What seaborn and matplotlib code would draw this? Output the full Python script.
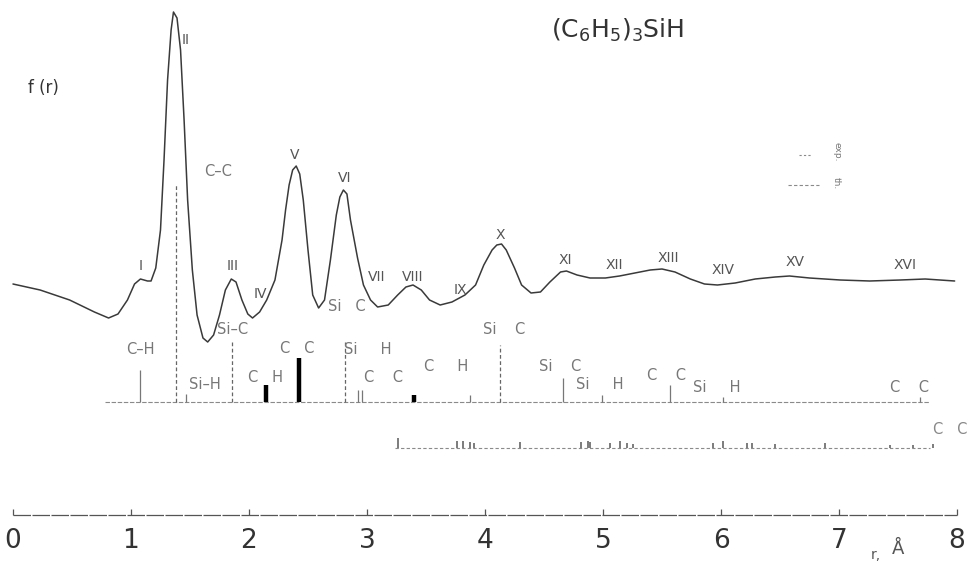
import numpy as np
import pandas as pd
import seaborn as sns
import matplotlib.pyplot as plt

# ---------------- DATA ----------------
# radial distribution curve f(r), arbitrary units
r_curve = [0.00, 0.23, 0.48, 0.69, 0.81, 0.89, 0.97, 1.03, 1.08, 1.14, 1.17, 1.21,
           1.25, 1.28, 1.31, 1.34, 1.36, 1.39, 1.42, 1.45, 1.48, 1.52, 1.56, 1.61,
           1.65, 1.70, 1.75, 1.80, 1.85, 1.89, 1.94, 1.99, 2.03, 2.09, 2.15, 2.22,
           2.28, 2.31, 2.34, 2.37, 2.40, 2.43, 2.46, 2.50, 2.54, 2.59, 2.64, 2.69,
           2.74, 2.77, 2.80, 2.83, 2.86, 2.92, 2.97, 3.03, 3.09, 3.18, 3.26, 3.33,
           3.39, 3.46, 3.53, 3.62, 3.72, 3.83, 3.92, 3.99, 4.06, 4.10, 4.14, 4.18,
           4.25, 4.31, 4.39, 4.47, 4.55, 4.64, 4.69, 4.78, 4.89, 5.02, 5.14, 5.27,
           5.40, 5.50, 5.61, 5.74, 5.86, 5.97, 6.12, 6.29, 6.46, 6.58, 6.75, 7.01,
           7.26, 7.52, 7.73, 7.98]
f_curve = [-4, -10, -20, -32, -38, -34, -20, -4, 1, -1, -1, 12,
           50, 120, 200, 250, 268, 262, 230, 160, 80, 10, -35, -58,
           -62, -55, -35, -10, 1, -2, -20, -34, -38, -32, -20, 0,
           40, 70, 95, 110, 114, 106, 80, 30, -15, -28, -20, 20,
           65, 83, 90, 86, 60, 22, -5, -20, -27, -25, -15, -7,
           -5, -10, -20, -25, -22, -15, -5, 15, 30, 35, 36, 30,
           12, -5, -13, -12, -2, 8, 9, 5, 2, 2, 4, 7,
           10, 11, 8, 1, -4, -5, -3, 1, 3, 4, 2, 0,
           -1, 0, 1, -1]

# peak numbering
peak_names = ["I", "II", "III", "IV", "V", "VI", "VII", "VIII", "IX", "X",
              "XI", "XII", "XIII", "XIV", "XV", "XVI"]
peak_r = [1.08, 1.46, 1.86, 2.10, 2.39, 2.81, 3.08, 3.39, 3.79, 4.13,
          4.68, 5.10, 5.55, 6.02, 6.63, 7.56]
peak_f = [14, 240, 14, -14, 125, 102, 3, 3, -10, 45,
          20, 15, 22, 10, 18, 15]

# interatomic distances (first row)
dist_r = [1.08, 1.38, 1.47, 1.86, 2.14, 2.42, 2.81, 2.92, 2.96, 3.40,
          3.87, 4.13, 4.66, 4.99, 5.57, 6.02, 7.69]
dist_h = [32, 217, 8, 62, 17, 44, 62, 12, 12, 7,
          7, 57, 24, 7, 17, 5, 5]
dist_kind = ["thin", "dash", "thin", "dash", "bold", "bold", "dash", "thin", "thin", "bold",
             "thin", "dash", "thin", "thin", "thin", "thin", "thin"]

# labels of the distances (text, r, centre height above the row)
pair_text = ["C–H", "C–C", "Si–H", "Si–C", "C   H", "C   C", "Si   C", "Si     H",
             "C    C", "C     H", "Si    C", "Si    C", "Si     H", "C    C", "Si     H", "C    C"]
pair_r = [1.08, 1.74, 1.63, 1.86, 2.14, 2.41, 2.83, 3.01, 3.14, 3.67, 4.16, 4.64,
          4.97, 5.54, 5.96, 7.60]
pair_h = [52, 230, 17, 72, 24, 53, 95, 52, 24, 35, 72, 35, 17, 26, 14, 14]

# non-bonded distances (second row)
far_r = [3.26, 3.76, 3.81, 3.87, 3.91, 4.30, 4.81, 4.87, 4.89, 5.06, 5.14, 5.20,
         5.25, 5.93, 6.02, 6.22, 6.26, 6.46, 6.88, 7.43, 7.63, 7.80]
far_h = [10, 7, 7, 6, 5, 6, 6, 7, 6, 5, 7, 5,
         4, 5, 7, 5, 5, 4, 5, 3, 3, 4]

r_ticks = [0, 1, 2, 3, 4, 5, 6, 7, 8]
# ---------------------------------------

ROW1 = -122
ROW2 = -168
AXIS = -235
INK = "#3a3a3a"
PALE = "#8a8a8a"

sns.set_style("white")
plt.rcParams["font.family"] = ["DejaVu Sans"]
plt.rcParams["mathtext.fontset"] = "dejavusans"

fig = plt.figure(figsize=(9.7, 5.63), dpi=100)
ax = fig.add_axes([0, 0, 1, 1])
ax.set_xlim(-0.110, 8.110)
ax.set_ylim(-283, 280)
ax.axis("off")

# curve
curve = pd.DataFrame({"r": r_curve, "f": f_curve})
sns.lineplot(data=curve, x="r", y="f", ax=ax, color=INK, lw=1.1, sort=False)

for name, x, y in zip(peak_names, peak_r, peak_f):
    ax.text(x, y, name, ha="center", va="center", fontsize=10, color="#555555")

# first row of distance sticks
ax.plot([0.78, 7.77], [ROW1, ROW1], color=PALE, lw=0.8, ls=(0, (4, 1.5)))
for x, h, k in zip(dist_r, dist_h, dist_kind):
    if k == "dash":
        ax.vlines(x, ROW1, ROW1 + h, color="#666666", lw=0.9, ls=(0, (3, 2)))
    elif k == "bold":
        ax.vlines(x, ROW1, ROW1 + h, color="black", lw=3.2)
    else:
        ax.vlines(x, ROW1, ROW1 + h, color="#777777", lw=0.9)
for t, x, h in zip(pair_text, pair_r, pair_h):
    ax.text(x, ROW1 + h, t, ha="center", va="center", fontsize=10.5, color="#777777")

# second row of sticks
ax.plot([3.24, 7.77], [ROW2, ROW2], color=PALE, lw=0.8, ls=(0, (3, 2)))
ax.vlines(far_r, ROW2, [ROW2 + h for h in far_h], color="#666666", lw=1.2)
ax.text(8.09, ROW2 + 18, "C   C", ha="right", va="center", fontsize=10.5, color="#888888")

# distance scale
ax.plot([r_ticks[0], r_ticks[-1]], [AXIS, AXIS], color="#555555", lw=0.9,
        ls=(0, (14, 1.2)))
ax.vlines(r_ticks, AXIS, AXIS + 6, color="#555555", lw=0.9)
for t in r_ticks:
    ax.text(t, AXIS - 13, str(t), ha="center", va="top", fontsize=19,
            color="#333333")
ax.text(7.31, AXIS - 40, "r,", ha="center", va="center", fontsize=10, color="#555555")
ax.text(7.50, AXIS - 34, "Å", ha="center", va="center", fontsize=13, color="#555555")

# titles and legend
ax.text(0.13, 192, "f (r)", ha="left", va="center", fontsize=12, color="#333333")
ax.text(5.12, 250, r"(C$_6$H$_5$)$_3$SiH", ha="center", va="center",
        fontsize=18, color="#333333")
ax.plot([6.66, 6.76], [125, 125], color=PALE, lw=0.8, ls=(0, (2, 2)))
ax.plot([6.57, 6.83], [95, 95], color=PALE, lw=0.8, ls=(0, (3, 2)))
ax.text(6.98, 128, "exp.", rotation=-90, ha="center", va="center", fontsize=6.5, color="#777777")
ax.text(6.98, 97, "th.", rotation=-90, ha="center", va="center", fontsize=6.5, color="#777777")

fig.savefig("out.png", dpi=100)
